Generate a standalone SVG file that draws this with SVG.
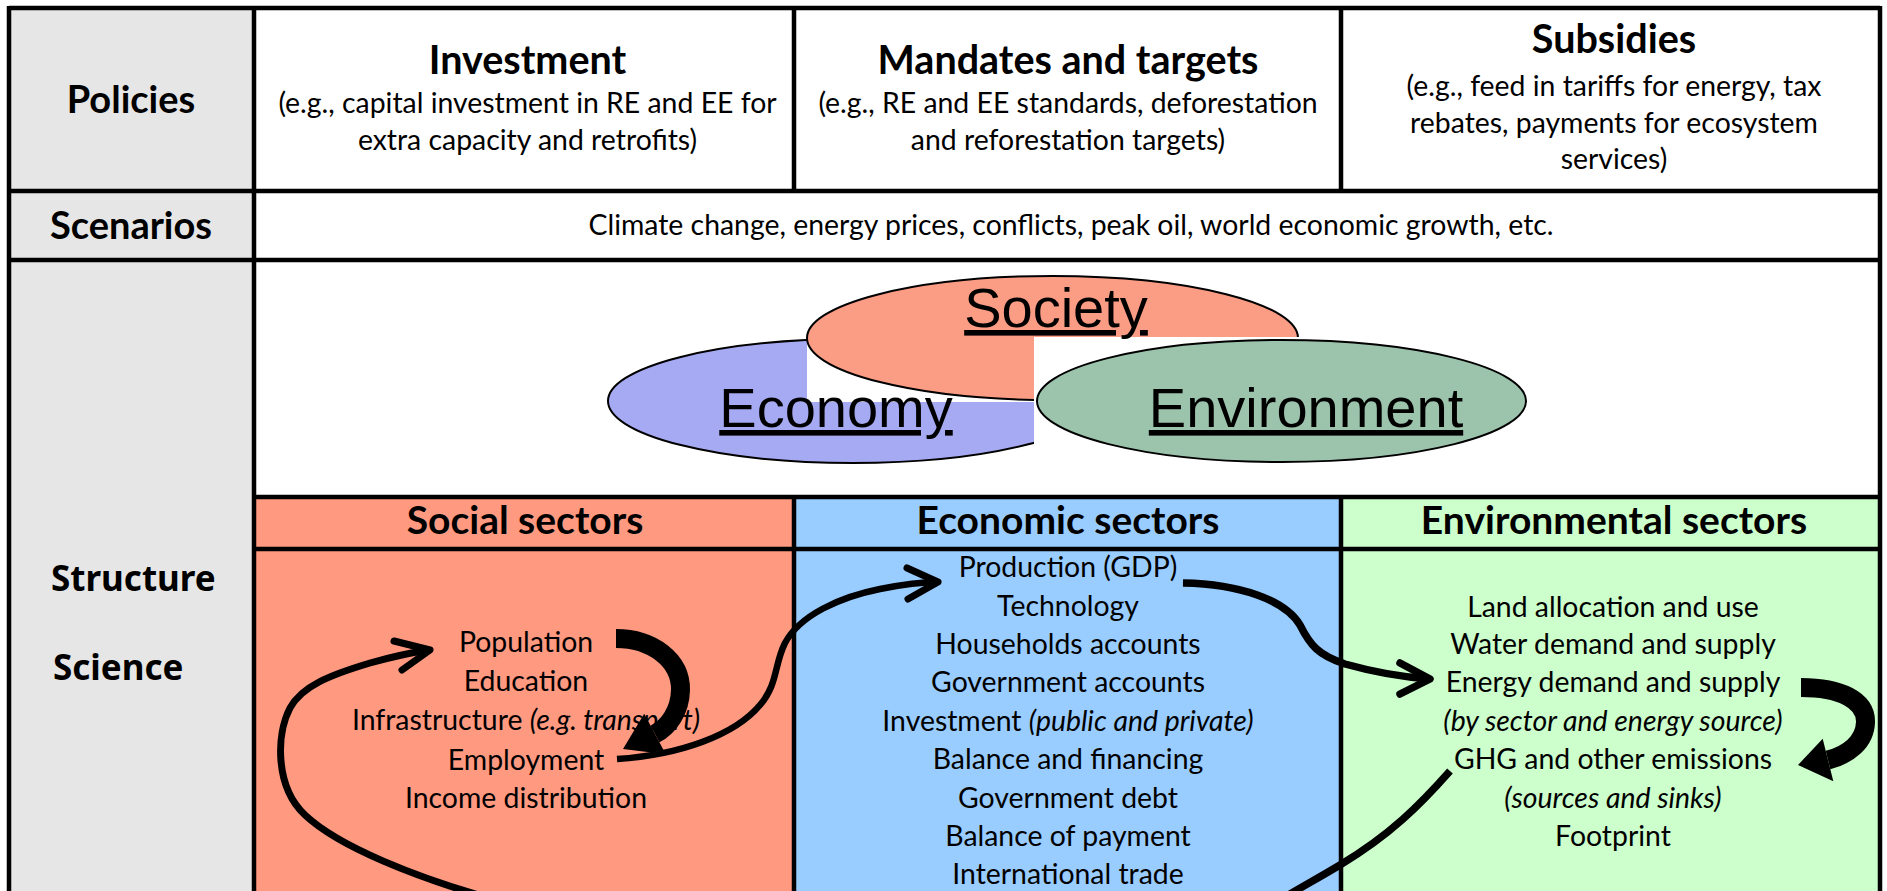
<svg xmlns="http://www.w3.org/2000/svg" width="1887" height="891" viewBox="0 0 1887 891">
<style>
.lbl{font-family:Lato,"Liberation Sans",sans-serif;font-weight:bold;font-size:38px;text-anchor:middle;fill:#000}
.side{font-family:"Noto Sans","DejaVu Sans",sans-serif;font-weight:bold;font-size:35px;fill:#000}
.ttl{font-family:Lato,"Liberation Sans",sans-serif;font-weight:bold;font-size:39.5px;text-anchor:middle;fill:#000}
.body{font-family:Lato,"Liberation Sans",sans-serif;font-size:28.4px;text-anchor:middle;fill:#000}
.hdr{font-family:Lato,"Liberation Sans",sans-serif;font-weight:bold;font-size:39px;text-anchor:middle;fill:#000}
.big{font-family:"Liberation Sans",Arial,sans-serif;font-size:56px;text-anchor:middle;text-decoration:underline;fill:#000}
.it{font-style:italic}
.grid{stroke:#000;stroke-width:4.5;fill:none}
.ell{stroke:#000;stroke-width:2}
.conn{stroke:#000;fill:none;stroke-width:7;stroke-linecap:butt}
.conn-m{stroke:#000;fill:none;stroke-width:6.5;stroke-linecap:butt}
.conn-w{stroke:#000;fill:none;stroke-width:7.5;stroke-linecap:butt}
.band{stroke:#000;fill:none;stroke-width:19;stroke-linecap:butt}
.head{stroke:#000;fill:none;stroke-width:7;stroke-linecap:round;stroke-linejoin:round}
.head-w{stroke:#000;fill:none;stroke-width:7.5;stroke-linecap:round;stroke-linejoin:round}
.blk{fill:#000}
</style>
<rect x="0" y="0" width="1887" height="891" fill="#fff"/>

<g id="label-policies">
<rect x="9" y="8" width="245" height="183" fill="#E6E6E6"/>
<text class="lbl" x="131" y="112.5">Policies</text>
</g>
<g id="label-scenarios">
<rect x="9" y="191" width="245" height="69" fill="#E6E6E6"/>
<text class="lbl" x="131" y="238.5">Scenarios</text>
</g>
<g id="label-structure-science">
<rect x="9" y="260" width="245" height="631" fill="#E6E6E6"/>
<text class="side" x="51" y="591">Structure</text>
<text class="side" x="53" y="680">Science</text>
</g>

<g id="policy-investment">
<text class="ttl" x="527.5" y="73.5">Investment</text>
<text class="body" x="527.5" y="112.5">(e.g., capital investment in RE and EE for</text>
<text class="body" x="527.5" y="149.5">extra capacity and retrofits)</text>
</g>
<g id="policy-mandates">
<text class="ttl" x="1068" y="73.5">Mandates and targets</text>
<text class="body" x="1068" y="112.5">(e.g., RE and EE standards, deforestation</text>
<text class="body" x="1068" y="149.5">and reforestation targets)</text>
</g>
<g id="policy-subsidies">
<text class="ttl" x="1614" y="53">Subsidies</text>
<text class="body" x="1614" y="96">(e.g., feed in tariffs for energy, tax</text>
<text class="body" x="1614" y="132.5">rebates, payments for ecosystem</text>
<text class="body" x="1614" y="169">services)</text>
</g>
<g id="scenarios">
<text class="body" x="1071" y="235">Climate change, energy prices, conflicts, peak oil, world economic growth, etc.</text>
</g>

<g id="economy">
<ellipse class="ell" cx="853" cy="401" rx="245" ry="62" fill="#A6AAF2"/>
</g>
<g id="society">
<rect x="807" y="274" width="492" height="128" fill="#fff"/>
<ellipse class="ell" cx="1052.5" cy="338" rx="245.5" ry="62" fill="#FB9C84"/>
</g>
<g id="environment">
<rect x="1034" y="337" width="496" height="130" fill="#fff"/>
<ellipse class="ell" cx="1281.5" cy="401" rx="244.5" ry="61" fill="#9CC3AC"/>
</g>
<g id="pillar-labels">
<text class="big" x="1056" y="327">Society</text>
<text class="big" x="836" y="427">Economy</text>
<text class="big" x="1306" y="427">Environment</text>
</g>

<g id="social-sectors">
<rect x="254" y="497" width="540" height="394" fill="#FF9980"/>
<text class="hdr" x="525" y="534">Social sectors</text>
<text class="body" x="526" y="652">Population</text>
<text class="body" x="526" y="691">Education</text>
<text class="body" x="526" y="729.5">Infrastructure <tspan class="it">(e.g. transport)</tspan></text>
<text class="body" x="526" y="769.5">Employment</text>
<text class="body" x="526" y="808">Income distribution</text>
</g>
<g id="economic-sectors">
<rect x="794" y="497" width="547" height="394" fill="#99CCFF"/>
<text class="hdr" x="1068" y="534">Economic sectors</text>
<text class="body" x="1068" y="577">Production (GDP)</text>
<text class="body" x="1068" y="615.5">Technology</text>
<text class="body" x="1068" y="654">Households accounts</text>
<text class="body" x="1068" y="692">Government accounts</text>
<text class="body" x="1068" y="730.5">Investment <tspan class="it">(public and private)</tspan></text>
<text class="body" x="1068" y="769">Balance and financing</text>
<text class="body" x="1068" y="807.5">Government debt</text>
<text class="body" x="1068" y="845.5">Balance of payment</text>
<text class="body" x="1068" y="884">International trade</text>
</g>
<g id="environmental-sectors">
<rect x="1341" y="497" width="539" height="394" fill="#CCFFCC"/>
<text class="hdr" x="1614" y="534">Environmental sectors</text>
<text class="body" x="1613" y="616.5">Land allocation and use</text>
<text class="body" x="1613" y="654">Water demand and supply</text>
<text class="body" x="1613" y="692">Energy demand and supply</text>
<text class="body it" x="1613" y="730.5">(by sector and energy source)</text>
<text class="body" x="1613" y="769">GHG and other emissions</text>
<text class="body it" x="1613" y="807.5">(sources and sinks)</text>
<text class="body" x="1613" y="845.5">Footprint</text>
</g>

<g id="grid" class="grid">
<path d="M9,8H1880M9,191H1880M9,260H1880M254,497H1880M254,549H1880"/>
<path d="M9,6V891M254,6V891M794,6V191M1341,6V191M794,497V891M1341,497V891M1880,6V891"/>
</g>

<g id="connectors">
<path class="conn" d="M482,896 C420,878 340,848 305,815 C275,787 276,735 290,708 C302,686 330,675 370,663 C395,656 415,652 430,650"/>
<path class="head" d="M394,641 L430,650 L402,670"/>
<path class="band" d="M616,638.5 C652,638.5 681,660 680.5,690 C680,712 668,727 655,734"/>
<polygon class="blk" points="665.8,754.2 644.2,713.8 623,749"/>
<path class="conn-m" d="M617,759 C680,755 735,735 760,705 C778,684 774,665 785,643 C800,615 840,597 880,589 C905,584 925,582 938,582"/>
<path class="head" d="M907,568 L938,582 L908,599"/>
<path class="conn-w" d="M1183,583 C1240,584 1285,600 1300,625 C1310,645 1318,655 1345,664 C1370,671 1400,677 1430,679"/>
<path class="head-w" d="M1400,663 L1430,679 L1400,694"/>
<path class="band" d="M1801,687.5 C1840,687.5 1866,700 1865.5,722 C1865,742 1848,755 1828,760"/>
<polygon class="blk" points="1833.3,781.3 1822.7,738.7 1798,765"/>
<path class="conn-w" d="M1450,771 C1420,805 1390,835 1340,865 C1320,877 1300,888 1285,897"/>
</g>
</svg>
